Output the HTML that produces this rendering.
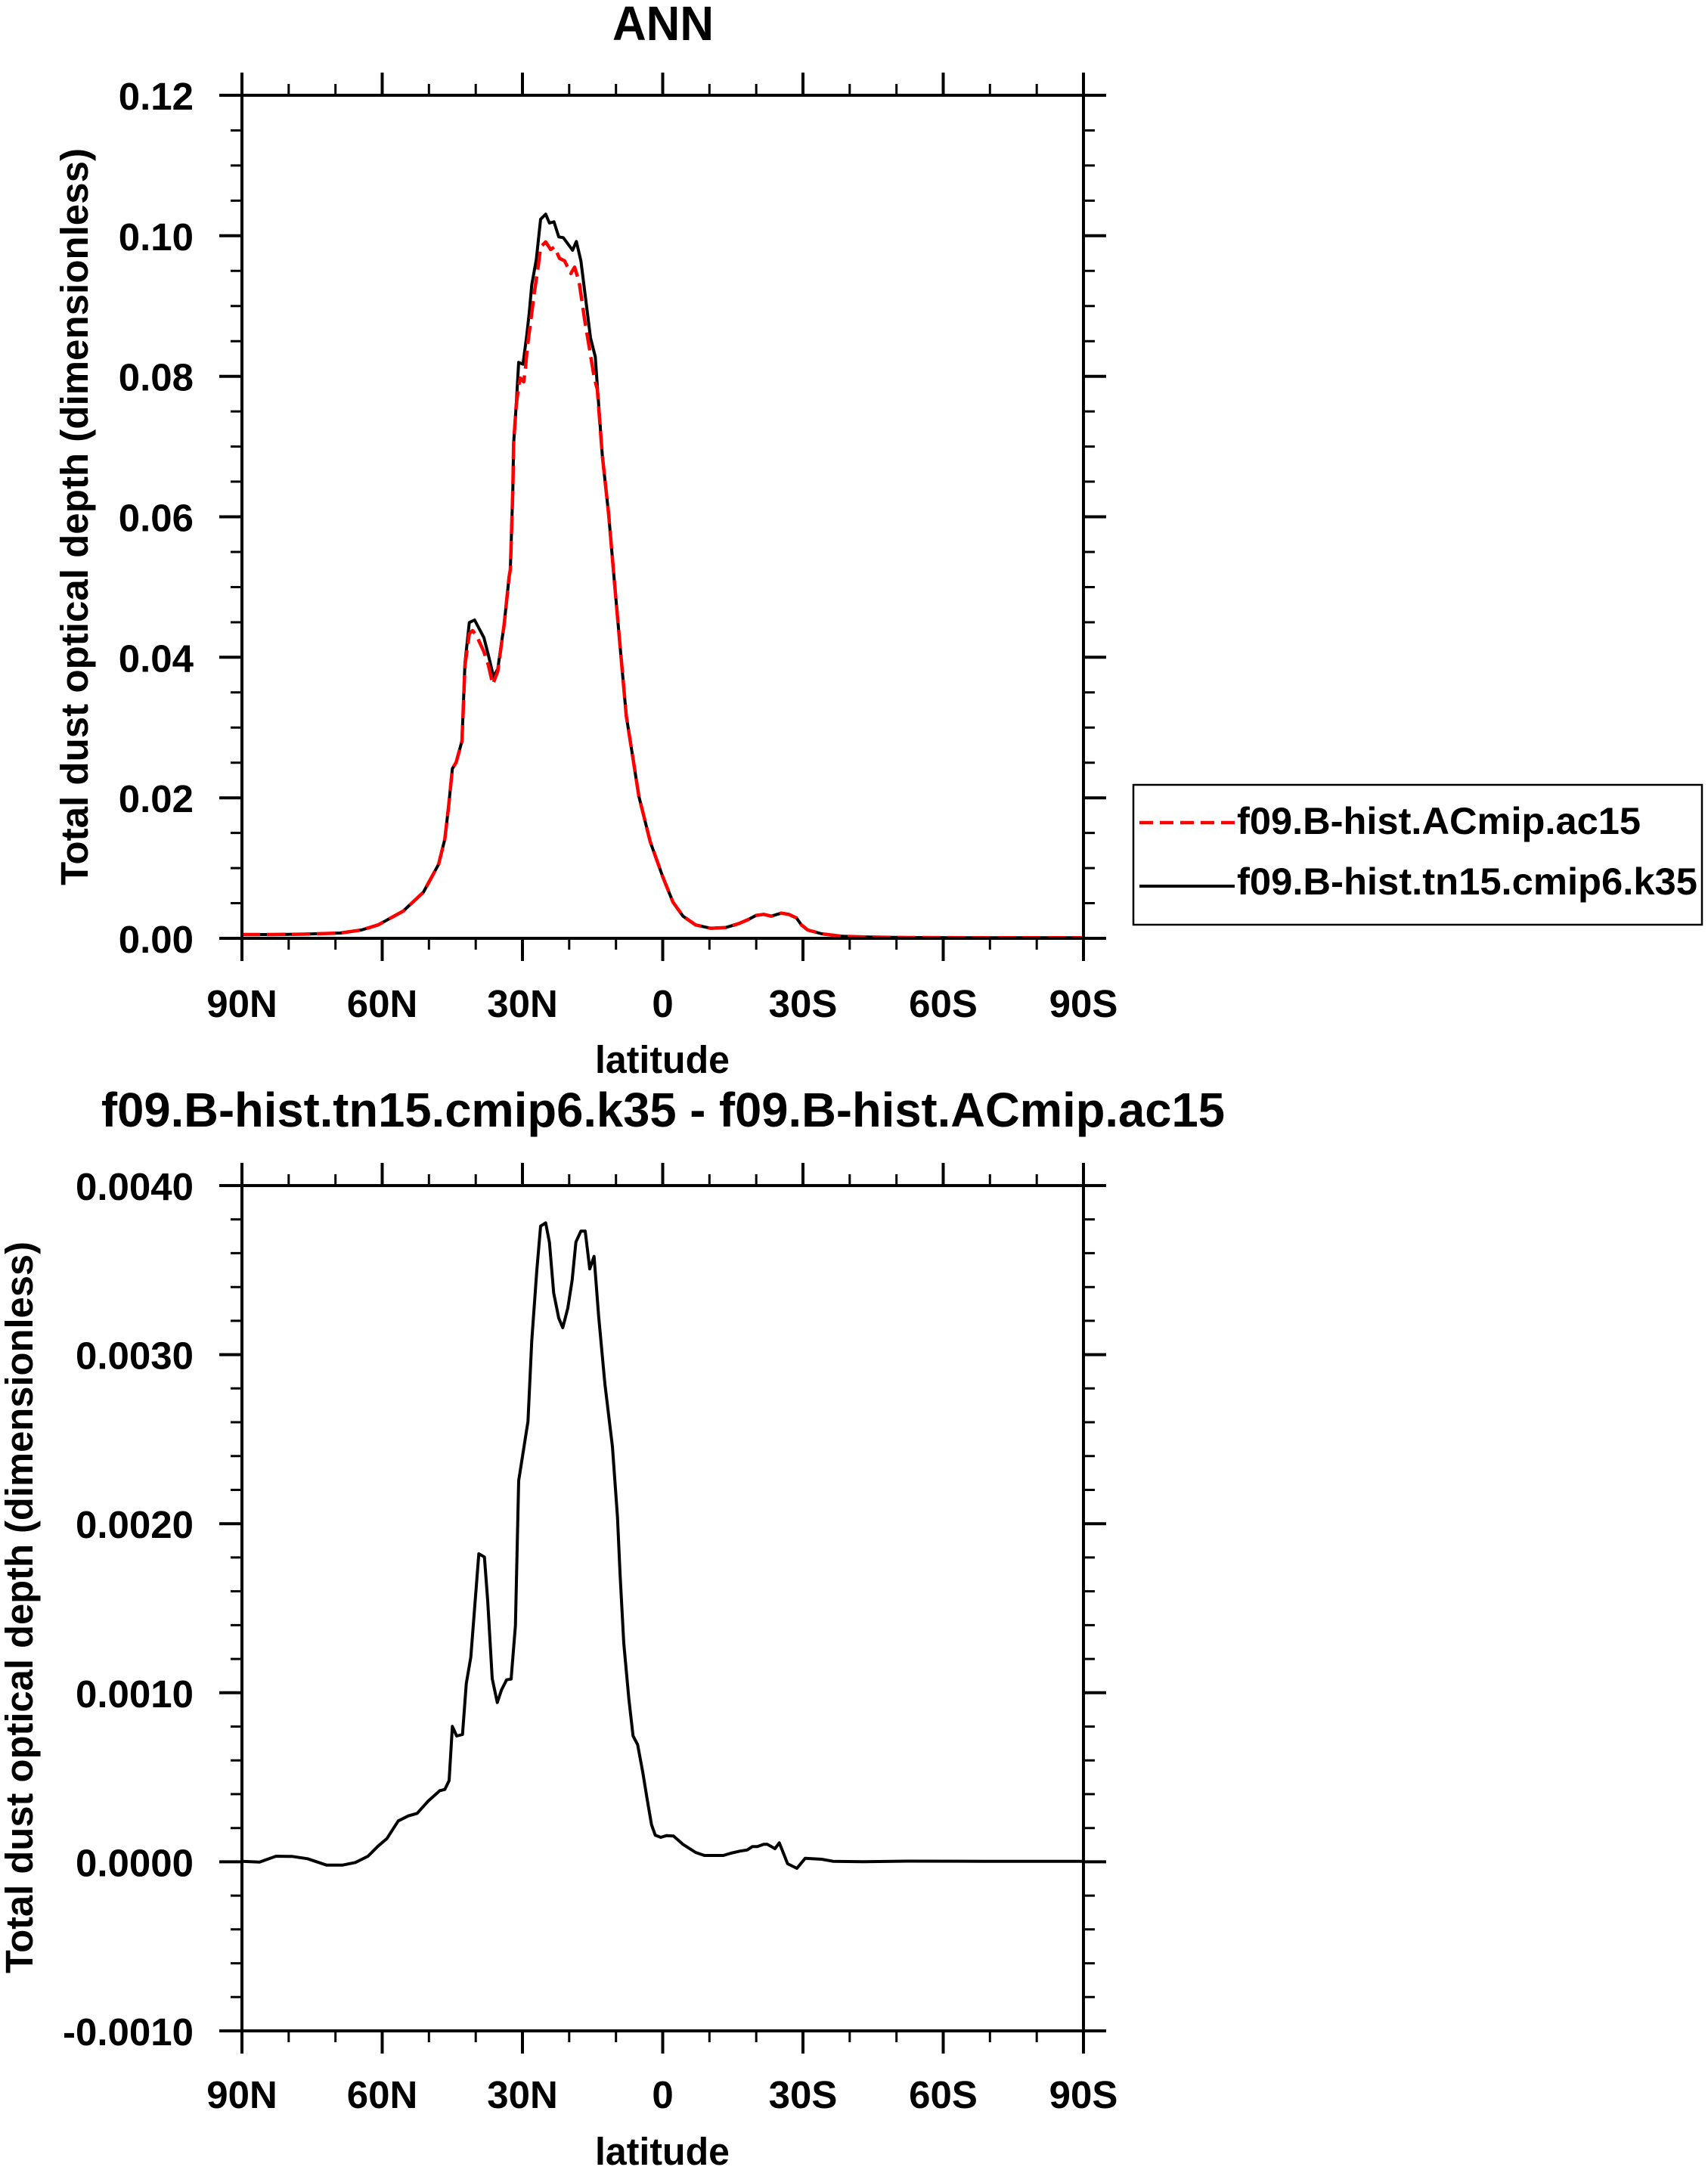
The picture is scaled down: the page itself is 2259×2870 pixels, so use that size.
<!DOCTYPE html>
<html>
<head>
<meta charset="utf-8">
<style>
html,body{margin:0;padding:0;background:#fff;}
svg{display:block;}
text{font-family:"Liberation Sans",Arial,Helvetica,sans-serif;font-weight:bold;fill:#000;}
</style>
</head>
<body>
<svg width="2259" height="2870" viewBox="0 0 2259 2870" xmlns="http://www.w3.org/2000/svg">
<rect x="0" y="0" width="2259" height="2870" fill="#fff"/>

<!-- ===================== TOP PLOT ===================== -->
<text x="877" y="53" font-size="64" text-anchor="middle" textLength="134" lengthAdjust="spacingAndGlyphs">ANN</text>

<!-- curves top -->
<polyline fill="none" stroke="#000" stroke-width="4" stroke-linejoin="round" stroke-linecap="round"
points="320,1236 360,1236 402,1235.5 450,1234 478,1230 500,1223.3 533.3,1205 560,1180 580,1143.3 588.3,1110 593.3,1066.7 598.3,1016.7 603.3,1008.3 611,980 615,876.7 620.7,823.3 627.7,820 640,843.3 646,866.7 652.7,895 658.3,885 666.7,826.7 673.3,763.3 675,753 678.3,646.7 679.3,586.7 682.7,536.7 686,479.3 691.7,481.7 696.7,443.3 700,413.3 703.3,376.7 709.3,343.3 715,290 721.7,283.3 726.7,295 732.7,293.3 739,313.3 745,314.3 757.3,331 762.3,319.3 768.3,345 781,446.7 787.3,471.7 790,510 796.7,603.3 805,680 812.5,768 820,853.3 828.3,946.7 836.7,1000 845,1053.3 860,1113.3 876.7,1160 890,1193 903.3,1211.7 920,1223.3 940,1227.7 960,1226.7 976.7,1221.7 990,1216 1000,1210.7 1010,1209.3 1020,1211.7 1033.3,1207.7 1043.3,1209.3 1053.3,1214 1060,1223.3 1068.3,1230 1086.7,1235 1113.3,1238.3 1146.7,1239.3 1200,1240 1300,1240.3 1433,1240.3"/>
<polyline fill="none" stroke="#ff0000" stroke-width="4.5" stroke-dasharray="24 9" stroke-linejoin="round"
points="320,1236 360,1236 402,1235.5 450,1234 478,1230 500,1223.3 533.3,1205 560,1180 580,1143.3 588.3,1110 593.3,1066.7 598.3,1016.7 603.3,1008.3 611,980 615,880 620.7,838 625,834 630,840 640,862 646,880 651.7,905 658.3,888 666.7,826.7 673.3,763.3 675,753 678.3,646.7 679.3,586.7 682.7,536.7 686,510 688.3,500 692.7,505 695,486.7 697.3,460 701.7,426.7 706.7,386.7 711.7,353.3 715,326.7 721.7,320 728.3,330 733.3,326.7 740,341.7 746.7,345 755,361.7 760,353.3 766,373.3 773.3,423.3 780,463.3 786,500 790,515 796.7,603.3 805,680 812.5,768 820,853.3 828.3,946.7 836.7,1000 845,1053.3 860,1113.3 876.7,1160 890,1193 903.3,1211.7 920,1223.3 940,1227.7 960,1226.7 976.7,1221.7 990,1216 1000,1210.7 1010,1209.3 1020,1211.7 1033.3,1207.7 1043.3,1209.3 1053.3,1214 1060,1223.3 1068.3,1230 1086.7,1235 1113.3,1238.3 1146.7,1239.3 1200,1240 1300,1240.3 1433,1240.3"/>

<!-- frame top -->
<rect x="320" y="126" width="1113" height="1115" fill="none" stroke="#000" stroke-width="4"/>
<!-- major ticks top plot -->
<path fill="none" stroke="#000" stroke-width="4" d="
M320 1241V1271 M505.5 1241V1271 M691 1241V1271 M876.5 1241V1271 M1062 1241V1271 M1247.5 1241V1271 M1433 1241V1271
M320 126V96 M505.5 126V96 M691 126V96 M876.5 126V96 M1062 126V96 M1247.5 126V96 M1433 126V96
M320 1241H290 M320 1055.2H290 M320 869.3H290 M320 683.5H290 M320 497.7H290 M320 311.8H290 M320 126H290
M1433 1241H1463 M1433 1055.2H1463 M1433 869.3H1463 M1433 683.5H1463 M1433 497.7H1463 M1433 311.8H1463 M1433 126H1463"/>
<!-- minor ticks top plot -->
<path fill="none" stroke="#000" stroke-width="3" d="
M381.8 1241V1256 M443.7 1241V1256 M567.3 1241V1256 M629.2 1241V1256 M752.8 1241V1256 M814.7 1241V1256 M938.3 1241V1256 M1000.2 1241V1256 M1123.8 1241V1256 M1185.7 1241V1256 M1309.3 1241V1256 M1371.2 1241V1256
M381.8 126V111 M443.7 126V111 M567.3 126V111 M629.2 126V111 M752.8 126V111 M814.7 126V111 M938.3 126V111 M1000.2 126V111 M1123.8 126V111 M1185.7 126V111 M1309.3 126V111 M1371.2 126V111
M320 1194.5H305 M320 1148.1H305 M320 1101.6H305 M320 1008.7H305 M320 962.3H305 M320 915.8H305 M320 823H305 M320 776.5H305 M320 730H305 M320 637H305 M320 590.6H305 M320 544.1H305 M320 451.2H305 M320 404.7H305 M320 358.3H305 M320 265.4H305 M320 218.9H305 M320 172.5H305
M1433 1194.5H1448 M1433 1148.1H1448 M1433 1101.6H1448 M1433 1008.7H1448 M1433 962.3H1448 M1433 915.8H1448 M1433 823H1448 M1433 776.5H1448 M1433 730H1448 M1433 637H1448 M1433 590.6H1448 M1433 544.1H1448 M1433 451.2H1448 M1433 404.7H1448 M1433 358.3H1448 M1433 265.4H1448 M1433 218.9H1448 M1433 172.5H1448"/>

<!-- y tick labels top -->
<g font-size="51" text-anchor="end">
<text x="256" y="145">0.12</text>
<text x="256" y="330.8">0.10</text>
<text x="256" y="516.7">0.08</text>
<text x="256" y="702.5">0.06</text>
<text x="256" y="888.3">0.04</text>
<text x="256" y="1074.2">0.02</text>
<text x="256" y="1260">0.00</text>
</g>
<!-- x tick labels top -->
<g font-size="51" text-anchor="middle">
<text x="320" y="1345">90N</text>
<text x="505.5" y="1345">60N</text>
<text x="691" y="1345">30N</text>
<text x="876.5" y="1345">0</text>
<text x="1062" y="1345">30S</text>
<text x="1247.5" y="1345">60S</text>
<text x="1433" y="1345">90S</text>
</g>
<text x="876" y="1419" font-size="51" text-anchor="middle" textLength="178" lengthAdjust="spacingAndGlyphs">latitude</text>
<text transform="translate(116,683.5) rotate(-90)" font-size="51" text-anchor="middle" textLength="975" lengthAdjust="spacingAndGlyphs">Total dust optical depth (dimensionless)</text>

<!-- legend -->
<rect x="1499" y="1038" width="752" height="185" fill="#fff" stroke="#000" stroke-width="2.5"/>
<line x1="1507" y1="1088" x2="1633" y2="1088" stroke="#ff0000" stroke-width="4.5" stroke-dasharray="18 9"/>
<line x1="1507" y1="1172" x2="1633" y2="1172" stroke="#000" stroke-width="4"/>
<text x="1636" y="1103" font-size="50" textLength="534" lengthAdjust="spacingAndGlyphs">f09.B-hist.ACmip.ac15</text>
<text x="1636" y="1183" font-size="50" textLength="609" lengthAdjust="spacingAndGlyphs">f09.B-hist.tn15.cmip6.k35</text>

<!-- ===================== BOTTOM PLOT ===================== -->
<text x="877" y="1490" font-size="64" text-anchor="middle" textLength="1486" lengthAdjust="spacingAndGlyphs">f09.B-hist.tn15.cmip6.k35 - f09.B-hist.ACmip.ac15</text>

<polyline fill="none" stroke="#000" stroke-width="4" stroke-linejoin="round" stroke-linecap="round"
points="320,2461.7 343.3,2462.7 365,2455 386.7,2455.3 406.7,2458.3 431.7,2466.7 453.3,2466.7 470,2463.3 486.7,2455 500,2441.7 511.7,2431.7 526.7,2408.3 540,2401.7 551.7,2398.3 566.7,2381.7 581.7,2368.3 588.3,2366.7 594,2355 598.3,2283.3 604,2296 611.7,2294 616.7,2226.7 622.7,2191.7 633.3,2055 640.7,2059.3 645,2116.7 651,2220 657.7,2251.7 663.3,2235 670,2221.7 676,2220.7 681.7,2150 686,1958.3 698.3,1880 703.3,1773.3 710,1680 715,1621.7 721.7,1617.3 726.7,1643.3 732.3,1710 739,1743.3 744.3,1756 751,1730 756.7,1693.3 761.7,1642.7 768.3,1628.3 774,1628.3 780,1678.3 785.7,1661.7 791.7,1740 800,1830 810,1913.3 816.7,2006.7 820,2080 825,2173.3 831.7,2246.7 837.3,2296 843.3,2307.3 850,2343.3 856,2380 861.7,2413.3 866.7,2427.3 874,2430 881.7,2427.7 890.7,2428.3 903.3,2439.3 920,2450 931.7,2454 956.7,2454 966.7,2451 978.3,2448.3 988.3,2446.7 995,2442.3 1001.7,2442.3 1010,2439.3 1015,2439.3 1025,2445 1030.7,2437.3 1041.7,2465 1054,2471 1065,2457.7 1086.7,2459 1101.7,2461.7 1140,2462.3 1200,2461.5 1300,2461.7 1433,2461.7"/>

<rect x="320" y="1568" width="1113" height="1118" fill="none" stroke="#000" stroke-width="4"/>
<path fill="none" stroke="#000" stroke-width="4" d="
M320 2686V2716 M505.5 2686V2716 M691 2686V2716 M876.5 2686V2716 M1062 2686V2716 M1247.5 2686V2716 M1433 2686V2716
M320 1568V1538 M505.5 1568V1538 M691 1568V1538 M876.5 1568V1538 M1062 1568V1538 M1247.5 1568V1538 M1433 1568V1538
M320 2686H290 M320 2462.4H290 M320 2238.8H290 M320 2015.2H290 M320 1791.6H290 M320 1568H290
M1433 2686H1463 M1433 2462.4H1463 M1433 2238.8H1463 M1433 2015.2H1463 M1433 1791.6H1463 M1433 1568H1463"/>
<path fill="none" stroke="#000" stroke-width="3" d="
M381.8 2686V2701 M443.7 2686V2701 M567.3 2686V2701 M629.2 2686V2701 M752.8 2686V2701 M814.7 2686V2701 M938.3 2686V2701 M1000.2 2686V2701 M1123.8 2686V2701 M1185.7 2686V2701 M1309.3 2686V2701 M1371.2 2686V2701
M381.8 1568V1553 M443.7 1568V1553 M567.3 1568V1553 M629.2 1568V1553 M752.8 1568V1553 M814.7 1568V1553 M938.3 1568V1553 M1000.2 1568V1553 M1123.8 1568V1553 M1185.7 1568V1553 M1309.3 1568V1553 M1371.2 1568V1553
M320 2641.3H305 M320 2596.6H305 M320 2551.8H305 M320 2507.1H305 M320 2417.7H305 M320 2372.9H305 M320 2328.2H305 M320 2283.5H305 M320 2194.1H305 M320 2149.4H305 M320 2104.6H305 M320 2059.9H305 M320 1970.5H305 M320 1925.8H305 M320 1881H305 M320 1836.3H305 M320 1746.9H305 M320 1702.2H305 M320 1657.4H305 M320 1612.7H305
M1433 2641.3H1448 M1433 2596.6H1448 M1433 2551.8H1448 M1433 2507.1H1448 M1433 2417.7H1448 M1433 2372.9H1448 M1433 2328.2H1448 M1433 2283.5H1448 M1433 2194.1H1448 M1433 2149.4H1448 M1433 2104.6H1448 M1433 2059.9H1448 M1433 1970.5H1448 M1433 1925.8H1448 M1433 1881H1448 M1433 1836.3H1448 M1433 1746.9H1448 M1433 1702.2H1448 M1433 1657.4H1448 M1433 1612.7H1448"/>

<g font-size="51" text-anchor="end">
<text x="256" y="1587">0.0040</text>
<text x="256" y="1810.6">0.0030</text>
<text x="256" y="2034.2">0.0020</text>
<text x="256" y="2257.8">0.0010</text>
<text x="256" y="2481.4">0.0000</text>
<text x="256" y="2705">-0.0010</text>
</g>
<g font-size="51" text-anchor="middle">
<text x="320" y="2788">90N</text>
<text x="505.5" y="2788">60N</text>
<text x="691" y="2788">30N</text>
<text x="876.5" y="2788">0</text>
<text x="1062" y="2788">30S</text>
<text x="1247.5" y="2788">60S</text>
<text x="1433" y="2788">90S</text>
</g>
<text x="876" y="2863" font-size="51" text-anchor="middle" textLength="178" lengthAdjust="spacingAndGlyphs">latitude</text>
<text transform="translate(43,2126) rotate(-90)" font-size="51" text-anchor="middle" textLength="968" lengthAdjust="spacingAndGlyphs">Total dust optical depth (dimensionless)</text>
</svg>
</body>
</html>
